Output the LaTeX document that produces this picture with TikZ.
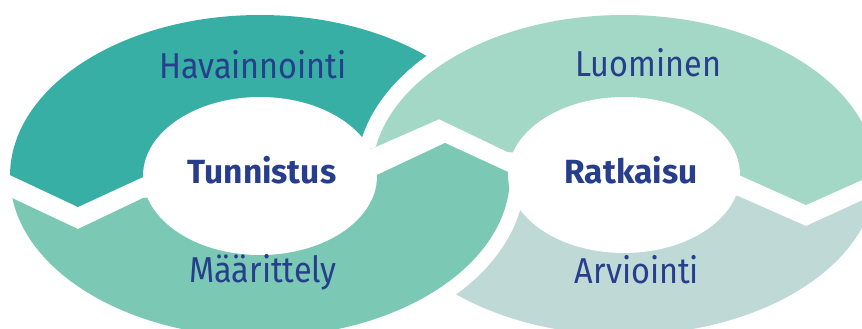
\documentclass[tikz,border=0pt]{standalone}
\usepackage{fontspec}
\newfontfamily\lblfont{Fira Sans}[FakeStretch=0.9]
\newfontfamily\ctrfont{Fira Sans}
\definecolor{cHav}{HTML}{37AFA5}
\definecolor{cMaa}{HTML}{7BC8B4}
\definecolor{cLuo}{HTML}{A3D7C6}
\definecolor{cArv}{HTML}{BFDAD6}
\definecolor{cTxt}{HTML}{273E8C}
\tikzset{
  lbl/.style={anchor=base, text=cTxt, font=\lblfont\fontsize{36}{40}\selectfont, inner sep=0pt},
  ctr/.style={anchor=base, text=cTxt, font=\ctrfont\bfseries\fontsize{33.5}{38}\selectfont, inner sep=0pt}
}
\def\Tline{(-20,161) -- (78,207) -- (143,177) -- (373,148) -- (439,119) -- (508,152) -- (739,175) -- (806,205) -- (900,163)}
\def\Bline{(-20,183) -- (78,229) -- (143,198) -- (377,175) -- (445,143) -- (508,172) -- (738,196) -- (806,226) -- (900,183)}
\begin{document}
\begin{tikzpicture}[x=1pt,y=-1pt]
\useasboundingbox (0,0) rectangle (862,329);
\clip (0,0) rectangle (862,329);
% Arviointi (right ring, lower half)
\begin{scope}
  \clip \Bline -- (900,360) -- (-20,360) -- cycle;
  \fill[cArv] (624,175) ellipse [x radius=252pt, y radius=160pt];
\end{scope}
% Havainnointi (left ring, upper half)
\begin{scope}
  \clip \Tline -- (900,-30) -- (-20,-30) -- cycle;
  \fill[cHav] (260,176) ellipse [x radius=250pt, y radius=161pt];
\end{scope}
% Luominen (right ring, upper half) over Havainnointi
\begin{scope}
  \clip \Tline -- (900,-30) -- (-20,-30) -- cycle;
  \fill[white] (624,175) ellipse [x radius=268pt, y radius=176pt];
  \fill[cLuo] (624,175) ellipse [x radius=252pt, y radius=160pt];
\end{scope}
% Maarittely (left ring, lower half) over Arviointi
\begin{scope}
  \clip \Bline -- (900,360) -- (-20,360) -- cycle;
  \fill[white] (260,176) ellipse [x radius=265pt, y radius=176pt];
  \fill[cMaa] (260,176) ellipse [x radius=250pt, y radius=161pt];
\end{scope}
% inner white ellipses
\fill[white] (260,176) ellipse [x radius=117pt, y radius=79pt];
\fill[white] (624,175) ellipse [x radius=116pt, y radius=78pt];
% labels
\node[lbl] (hav) at (253,78) {Havainnointi};
\node[lbl] (maa) at (263,282) {Määrittely};
\node[lbl] (luo) at (648,77) {Luominen};
\node[lbl] (arv) at (637,283) {Arviointi};
\node[ctr] (tun) at (262,183) {Tunnistus};
\node[ctr] (rat) at (631,183) {Ratkaisu};
\end{tikzpicture}
\end{document}
